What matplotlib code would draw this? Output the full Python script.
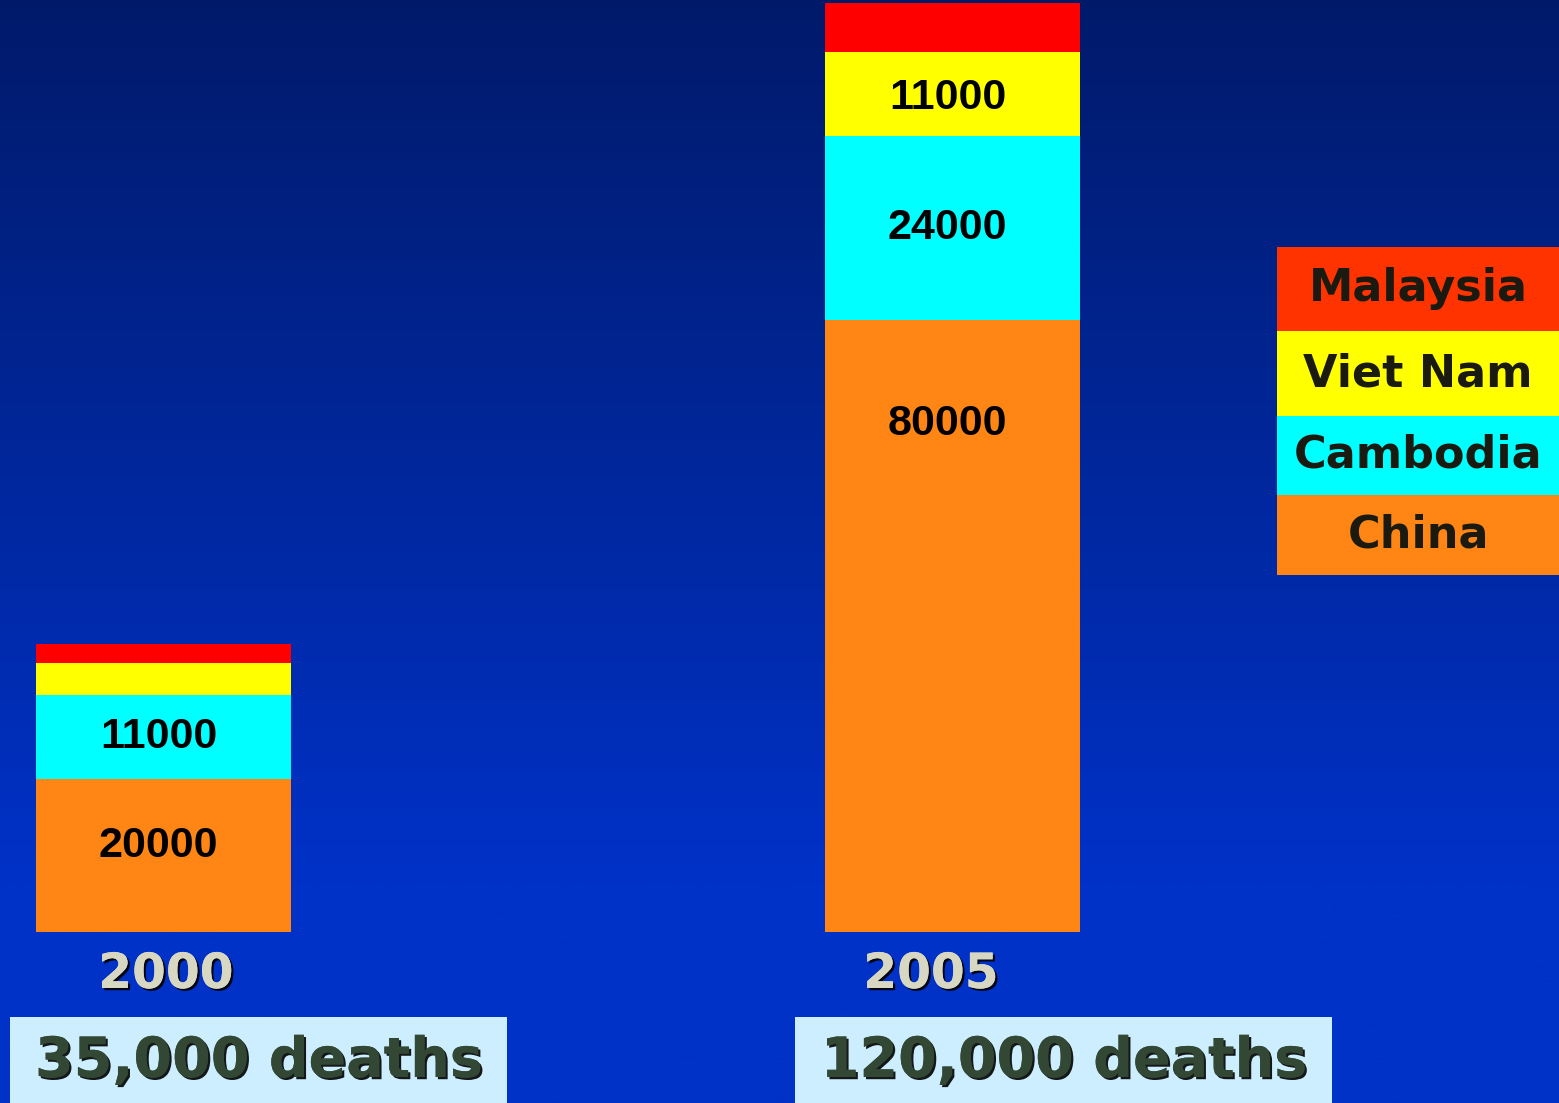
import numpy as np
import matplotlib
matplotlib.use("Agg")
import matplotlib.pyplot as plt
import matplotlib.patheffects as pe
from matplotlib.patches import Rectangle

# data
years = ["2000", "2005"]
countries = ["China", "Cambodia", "Viet Nam", "Malaysia"]
deaths = {
    "China": [20000, 80000],
    "Cambodia": [11000, 24000],
    "Viet Nam": [4200, 11000],
    "Malaysia": [2500, 6400],
}
# labels shown inside the segments (None = no label)
seg_labels = {
    "China": ["20000", "80000"],
    "Cambodia": ["11000", "24000"],
    "Viet Nam": [None, "11000"],
    "Malaysia": [None, None],
}
totals_text = ["35,000 deaths", "120,000 deaths"]

bar_colors = {"China": "#ff8614", "Cambodia": "#00ffff",
              "Viet Nam": "#ffff00", "Malaysia": "#ff0000"}
legend_colors = {"China": "#ff8614", "Cambodia": "#00ffff",
                 "Viet Nam": "#ffff00", "Malaysia": "#ff3300"}
# where inside a segment the label sits (fraction of segment height)
label_frac = {"China": [0.56, 0.83], "Cambodia": [0.5, 0.5],
              "Viet Nam": [0.5, 0.46], "Malaysia": [0.5, 0.5]}

W, H = 1559, 1103
fig = plt.figure(figsize=(W / 100, H / 100), dpi=100)

# gradient background
bg = fig.add_axes([0, 0, 1, 1], zorder=0)
t = np.linspace(0, 1, 400)
t = np.clip(t / 0.8, 0, 1)
top = np.array([0x00, 0x1a, 0x6a]) / 255
bot = np.array([0x00, 0x32, 0xc8]) / 255
grad = top[None, :] * (1 - t[:, None]) + bot[None, :] * t[:, None]
bg.imshow(grad[:, None, :], aspect="auto", extent=[0, 1, 0, 1])
bg.set_axis_off()

# main bar axes
ax = fig.add_axes([0, 1 - 932 / H, 1, 932 / H], zorder=1)
ax.patch.set_alpha(0)
x = np.arange(len(years))
width = 255 / 789
lab_shift = -5 / 789  # labels sit a little left of centre
bottom = np.zeros(len(years))
for c in countries:
    vals = np.array(deaths[c], dtype=float)
    ax.bar(x, vals, width=width, bottom=bottom, color=bar_colors[c],
           linewidth=0)
    for i, lab in enumerate(seg_labels[c]):
        if lab:
            ax.text(x[i] + lab_shift, bottom[i] + vals[i] * label_frac[c][i],
                    lab, ha="center", va="center", fontsize=31,
                    fontweight="bold", family="Liberation Sans",
                    color="black")
    bottom += vals
ax.set_xlim(-163.5 / 789, (W - 163.5) / 789)
ax.set_ylim(0, 932 / 7.65 * 1000)
ax.set_axis_off()

shadow = [pe.withSimplePatchShadow(offset=(1.6, -1.6),
                                   shadow_rgbFace="black", alpha=0.9),
          pe.Normal()]

# year labels and totals under the bars
year_x = [166, 931]
box_x = [(10, 507), (795, 1332)]
for i, yr in enumerate(years):
    fig.text(year_x[i] / W, 1 - 974 / H, yr, ha="center", va="center",
             fontsize=35, fontweight="bold", color="#d8d8c2",
             path_effects=shadow)
    x0, x1 = box_x[i]
    fig.patches.append(Rectangle((x0 / W, 0), (x1 - x0) / W, 86 / H,
                                 transform=fig.transFigure,
                                 facecolor="#cceeff", edgecolor="none",
                                 zorder=2))
    fig.text((x0 + x1) / 2 / W, 1 - 1062 / H, totals_text[i],
             ha="center", va="center", fontsize=40, fontweight="bold",
             color="#334834", path_effects=shadow, zorder=3)

# legend
leg_rows = [("Malaysia", 247, 331), ("Viet Nam", 331, 416),
            ("Cambodia", 416, 495), ("China", 495, 575)]
for name, y0, y1 in leg_rows:
    fig.patches.append(Rectangle((1277 / W, 1 - y1 / H), (W - 1277) / W,
                                 (y1 - y0) / H, transform=fig.transFigure,
                                 facecolor=legend_colors[name],
                                 edgecolor="none", zorder=2))
    fig.text((1277 + W) / 2 / W, 1 - (y0 + y1) / 2 / H, name,
             ha="center", va="center", fontsize=32, fontweight="bold",
             color="#1a1a10", zorder=3)

fig.savefig("out.png", dpi=100)
